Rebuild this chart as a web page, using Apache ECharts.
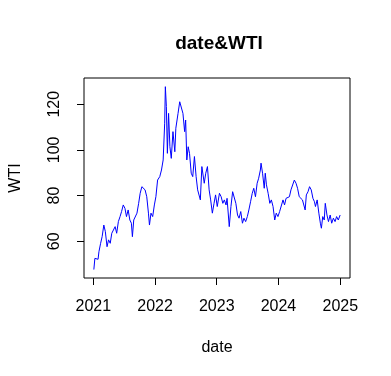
<!DOCTYPE html>
<html>
<head>
<meta charset="utf-8">
<script src="https://cdn.jsdelivr.net/npm/echarts@6/dist/echarts.min.js"></script>
<style>
html,body{margin:0;padding:0;background:#fff;}
#chart{width:391px;height:376px;}
</style>
</head>
<body>
<div id="chart"></div>
<script>
var dates = [
"2021-01-04","2021-01-10","2021-01-16","2021-01-29","2021-02-03","2021-02-13","2021-02-22","2021-03-04","2021-03-13","2021-03-23",
"2021-04-01","2021-04-11","2021-04-20","2021-04-28","2021-05-10","2021-05-19","2021-05-29","2021-06-08","2021-06-17","2021-06-27",
"2021-07-07","2021-07-16","2021-07-26","2021-08-05","2021-08-14","2021-08-20","2021-08-28","2021-09-07","2021-09-16","2021-09-26",
"2021-10-05","2021-10-15","2021-10-25","2021-11-03","2021-11-13","2021-11-23","2021-11-29","2021-12-08","2021-12-18","2021-12-28",
"2022-01-06","2022-01-16","2022-01-29","2022-02-08","2022-02-18","2022-02-27","2022-03-03","2022-03-09","2022-03-15","2022-03-22",
"2022-03-30","2022-04-07","2022-04-17","2022-04-28","2022-05-04","2022-05-11","2022-05-17","2022-05-27","2022-06-05","2022-06-15",
"2022-06-25","2022-07-01","2022-07-08","2022-07-16","2022-07-24","2022-08-03","2022-08-12","2022-08-22","2022-09-01","2022-09-10",
"2022-09-20","2022-09-26","2022-10-05","2022-10-19","2022-10-28","2022-11-07","2022-11-17","2022-11-26","2022-12-06","2022-12-16",
"2022-12-25","2023-01-04","2023-01-08","2023-01-17","2023-01-27","2023-02-06","2023-02-15","2023-02-25","2023-03-03","2023-03-13",
"2023-03-16","2023-03-26","2023-04-05","2023-04-14","2023-04-24","2023-05-04","2023-05-13","2023-05-23","2023-06-02","2023-06-11",
"2023-06-21","2023-07-01","2023-07-10","2023-07-20","2023-07-30","2023-08-08","2023-08-18","2023-08-28","2023-09-06","2023-09-16",
"2023-09-20","2023-09-29","2023-10-09","2023-10-15","2023-10-22","2023-11-01","2023-11-11","2023-11-20","2023-11-30","2023-12-10",
"2023-12-19","2023-12-29","2024-01-08","2024-01-18","2024-01-28","2024-02-06","2024-02-15","2024-02-25","2024-03-06","2024-03-15",
"2024-03-25","2024-04-04","2024-04-14","2024-04-23","2024-05-03","2024-05-12","2024-05-22","2024-06-01","2024-06-07","2024-06-14",
"2024-06-24","2024-07-03","2024-07-13","2024-07-23","2024-08-01","2024-08-07","2024-08-17","2024-08-27","2024-09-05","2024-09-11",
"2024-09-19","2024-09-28","2024-10-04","2024-10-14","2024-10-23","2024-11-02","2024-11-11","2024-11-21","2024-12-01","2024-12-10",
"2024-12-20","2024-12-31"
];
var wti = [
47.6,52.5,51.8,52.1,55.4,59.1,62.0,67.1,64.2,57.6,
60.6,59.1,63.5,63.5,66.4,63.5,68.6,70.8,73.0,75.9,
74.4,70.8,73.7,69.3,67.9,62.0,69.3,68.6,72.3,76.6,
81.0,83.9,83.9,82.5,79.5,72.3,67.1,72.3,70.8,75.9,
79.5,86.8,88.3,91.2,95.6,111.7,127.7,119.0,98.5,116.0,
101.4,96.3,108.0,99.2,109.5,110.2,116.0,121.1,120.4,116.0,
108.0,113.1,95.6,101.4,98.5,89.8,88.3,97.1,88.3,82.5,
82.5,78.1,92.7,85.4,89.8,92.7,82.5,78.1,72.3,76.6,
80.3,75.2,74.5,81.0,79.5,76.6,78.1,75.9,78.8,69.3,
66.4,75.2,81.7,81.0,76.6,71.5,70.1,73.0,67.9,70.1,
68.6,70.8,73.7,77.3,81.0,83.2,79.5,85.4,87.6,91.2,
94.2,89.8,83.2,89.8,84.7,81.0,76.6,78.1,75.2,69.3,
72.3,70.8,73.0,72.3,78.1,75.9,78.8,78.1,79.5,82.5,
83.2,86.8,85.4,83.2,79.5,80.3,78.1,77.3,73.7,80.3,
81.7,83.9,82.5,78.8,77.3,75.2,78.1,72.3,67.9,65.7,
70.8,69.3,76.6,71.5,68.6,71.5,67.9,70.1,68.6,70.8,
69.3,71.5
];
var xTickYears = [2021, 2022, 2023, 2024, 2025];
var yTicks = [60, 80, 100, 120];
var yMin = 43.9, yMax = 131.5;

function ms(s){ var p = s.split('-'); return Date.UTC(+p[0], +p[1]-1, +p[2]); }
var xs = dates.map(ms);
var x0 = xs[0], x1 = xs[xs.length-1], xr = x1 - x0;
var xMin = x0 - 0.04*xr, xMax = x1 + 0.04*xr;
var xTickVals = xTickYears.map(function(y){ return Date.UTC(y,0,1); });
var seriesData = xs.map(function(t,i){ return [t, wti[i]]; });

var font = "'Liberation Sans', Arial, sans-serif";
var chart = echarts.init(document.getElementById('chart'), null, {renderer:'canvas'});
chart.setOption({
  animation: false,
  backgroundColor: '#ffffff',
  title: {
    text: 'date&WTI',
    left: 214, top: 29, textAlign: 'center',
    textStyle: {fontFamily: font, fontSize: 19, fontWeight: 'bold', color: '#000'}
  },
  grid: {left: 78, top: 78, width: 272, height: 200, show: true, borderColor: '#000', borderWidth: 1, backgroundColor: 'transparent'},
  xAxis: {
    type: 'value', min: xMin, max: xMax,
    name: 'date', nameLocation: 'middle', nameGap: 62,
    nameTextStyle: {fontFamily: font, fontSize: 16, color: '#000'},
    axisLine: {show: false},
    splitLine: {show: false},
    axisTick: {show: true, length: 7, lineStyle: {color: '#000'}, customValues: xTickVals},
    axisLabel: {fontFamily: font, fontSize: 16, color: '#000', margin: 21, customValues: xTickVals,
      formatter: function(v){ return String(new Date(v).getUTCFullYear()); }}
  },
  yAxis: {
    type: 'value', min: yMin, max: yMax,
    name: 'WTI', nameLocation: 'middle', nameGap: 60, nameRotate: 90,
    nameTextStyle: {fontFamily: font, fontSize: 16, color: '#000'},
    axisLine: {show: false},
    splitLine: {show: false},
    axisTick: {show: true, length: 7, lineStyle: {color: '#000'}, customValues: yTicks},
    axisLabel: {fontFamily: font, fontSize: 16, color: '#000', margin: 21, rotate: 90, customValues: yTicks}
  },
  series: [{
    type: 'line', data: seriesData, showSymbol: false, symbol: 'none',
    lineStyle: {color: '#0000ff', width: 1}, itemStyle: {color: '#0000ff'}
  }]
});
</script>
</body>
</html>
